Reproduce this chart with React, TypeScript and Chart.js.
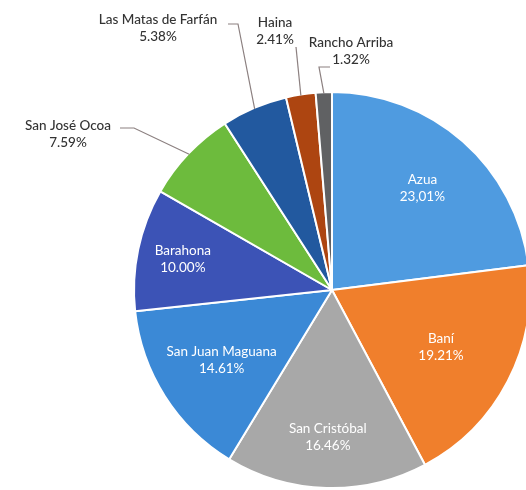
import React, { useEffect, useRef } from "react";
import { Chart, registerables } from "chart.js";

Chart.register(...registerables);

const categories = [
  "Azua",
  "Baní",
  "San Cristóbal",
  "San Juan Maguana",
  "Barahona",
  "San José Ocoa",
  "Las Matas de Farfán",
  "Haina",
  "Rancho Arriba",
];
const values = [23.01, 19.21, 16.46, 14.61, 10.0, 7.59, 5.38, 2.41, 1.32];
const valueLabels = ["23,01%", "19.21%", "16.46%", "14.61%", "10.00%", "7.59%", "5.38%", "2.41%", "1.32%"];
const colors = ["#4f9be0", "#f07f2c", "#a8a8a8", "#3b89d6", "#3c53b6", "#6dbb3d", "#22599f", "#ad4511", "#606163"];

// inside-label radius fractions (layout)
const insideRadius: Record<number, number> = { 0: 0.69, 1: 0.62, 2: 0.74, 3: 0.66, 4: 0.77 };
// outside labels: text centre and leader elbow points (layout, page px)
const outside: Record<number, { tx: number; ty: number; pts: [number, number][] }> = {
  5: { tx: 68, ty: 126, pts: [[120, 128], [134, 128]] },
  6: { tx: 158, ty: 20, pts: [[228, 24], [238, 24]] },
  7: { tx: 275, ty: 23, pts: [[296, 47]] },
  8: { tx: 351, ty: 43, pts: [[330, 67], [319, 67]] },
};

const labelPlugin = {
  id: "pieLabels",
  afterDatasetsDraw(chart: any) {
    const ctx = chart.ctx;
    const meta = chart.getDatasetMeta(0);
    ctx.save();
    meta.data.forEach((arc: any, i: number) => {
      const { x, y, startAngle, endAngle, outerRadius } = arc.getProps(
        ["x", "y", "startAngle", "endAngle", "outerRadius"],
        true
      );
      const mid = (startAngle + endAngle) / 2;
      if (insideRadius[i] !== undefined) {
        const r = outerRadius * insideRadius[i];
        const lx = x + Math.cos(mid) * r;
        const ly = y + Math.sin(mid) * r;
        ctx.fillStyle = "#ffffff";
        ctx.font = "13.5px Lato, 'Open Sans', sans-serif";
        ctx.textAlign = "center";
        ctx.textBaseline = "middle";
        ctx.fillText(categories[i], lx, ly - 8);
        ctx.fillText(valueLabels[i], lx, ly + 9);
      } else if (outside[i]) {
        const o = outside[i];
        const ex = x + Math.cos(mid) * (outerRadius - 1);
        const ey = y + Math.sin(mid) * (outerRadius - 1);
        ctx.strokeStyle = "#8c8080";
        ctx.lineWidth = 1.2;
        ctx.beginPath();
        o.pts.forEach((p, k) => (k === 0 ? ctx.moveTo(p[0], p[1]) : ctx.lineTo(p[0], p[1])));
        ctx.lineTo(ex, ey);
        ctx.stroke();
        ctx.fillStyle = "#333333";
        ctx.font = "500 13.5px Lato, 'Open Sans', sans-serif";
        ctx.textAlign = "center";
        ctx.textBaseline = "middle";
        ctx.fillText(categories[i], o.tx, o.ty);
        ctx.fillText(valueLabels[i], o.tx, o.ty + 17);
      }
    });
    ctx.restore();
  },
};

export default function App() {
  const ref = useRef<HTMLCanvasElement>(null);
  useEffect(() => {
    if (!ref.current) return;
    const chart = new Chart(ref.current, {
      type: "pie",
      data: {
        labels: categories,
        datasets: [
          {
            data: values,
            backgroundColor: colors,
            borderColor: "#ffffff",
            borderWidth: 2,
          },
        ],
      },
      options: {
        responsive: false,
        animation: false,
        layout: { padding: { left: 133, top: 91, right: 9, bottom: 1 } },
        plugins: { legend: { display: false }, tooltip: { enabled: false } },
      },
      plugins: [labelPlugin],
    });
    return () => chart.destroy();
  }, []);
  return (
    <div style={{ position: "fixed", left: 0, top: 0, width: 526, height: 490, overflow: "hidden", background: "#fff" }}>
      <canvas ref={ref} width={540} height={490} style={{ width: 540, height: 490, display: "block" }} />
    </div>
  );
}
